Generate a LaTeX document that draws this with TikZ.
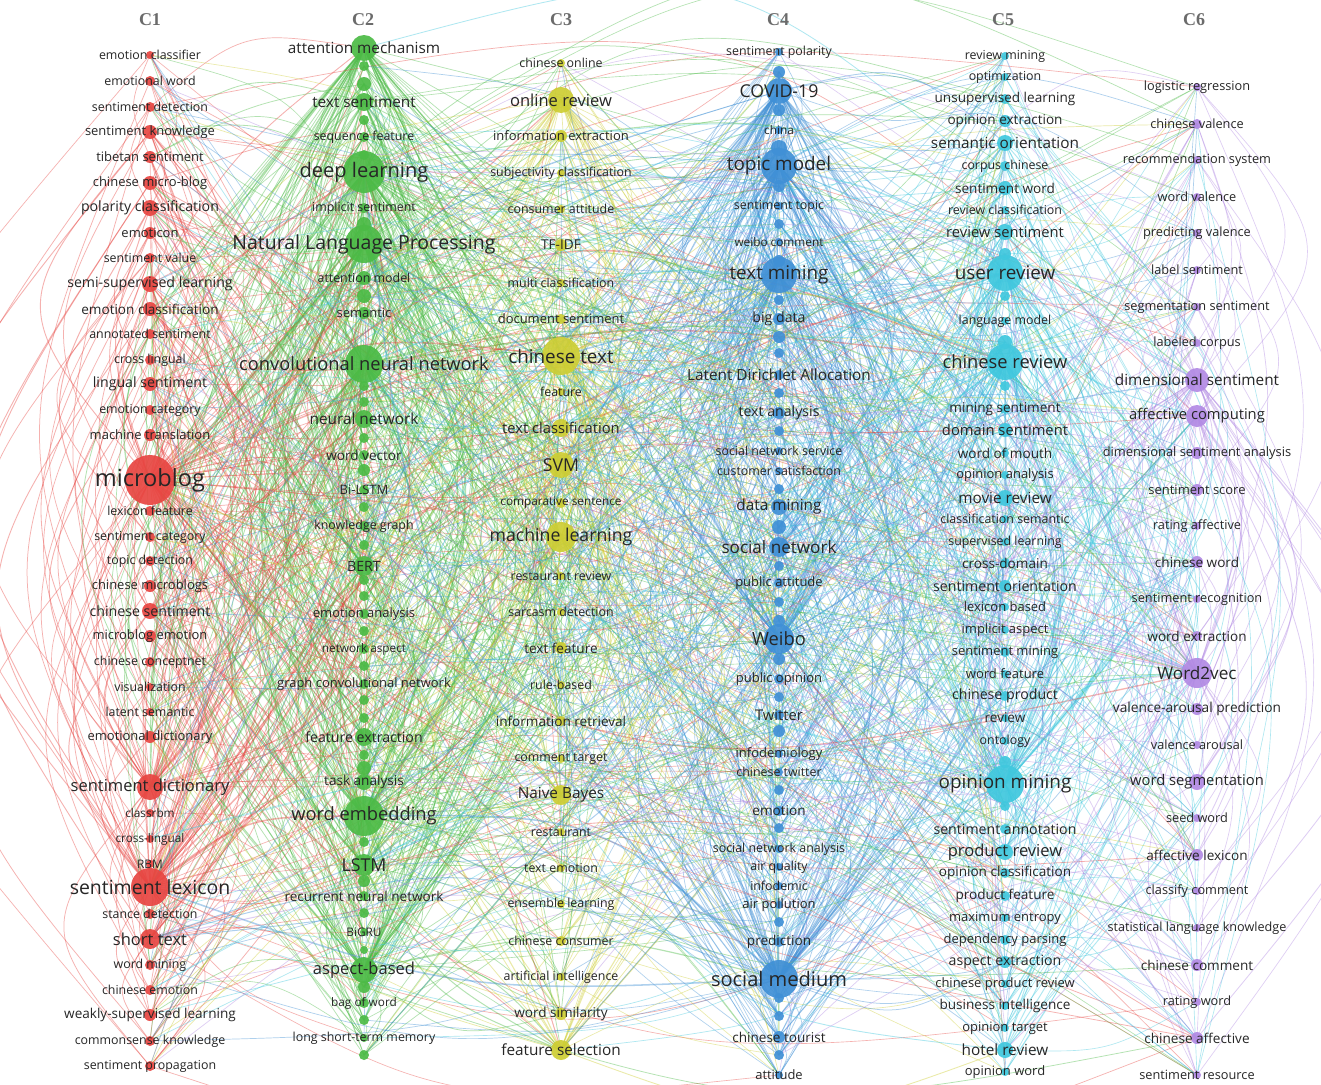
\documentclass[tikz,border=0pt]{standalone}
\usepackage{fontspec}
\setmainfont{Open Sans}
\newfontfamily\ttlfont{Liberation Serif}
\usetikzlibrary{calc}
\pgfdeclarelayer{bglayer}
\pgfdeclarelayer{edgelayer}
\pgfsetlayers{bglayer,edgelayer,main}
\definecolor{colA}{RGB}{232,70,66}
\definecolor{colB}{RGB}{76,187,70}
\definecolor{colC}{RGB}{206,206,52}
\definecolor{colD}{RGB}{64,144,214}
\definecolor{colE}{RGB}{64,200,222}
\definecolor{colF}{RGB}{178,138,228}
\tikzset{
  kwnode/.style={circle,inner sep=0pt,outer sep=0pt,draw=none,fill opacity=0.92},
  kwlabel/.style={inner sep=0pt,text=black!85},
  coltitle/.style={font=\ttlfont\bfseries\fontsize{18}{18}\selectfont,text=black!58},
  linkline/.style={draw opacity=0.42,line cap=round},
}
\newcommand\kwcolumn[4]{%
  \foreach \py/\plab/\pfs/\prad [count=\pidx] in {#4}{%
    \pgfmathsetmacro\pfsz{\pfs*1.18}%
    \node[kwnode,fill=#3,minimum size=2*\prad*1pt] (n#1-\pidx) at (#2,\py) {};
    \expandafter\xdef\csname kwrad-#1-\pidx\endcsname{\prad}%
    \expandafter\xdef\csname kwlab-#1-\pidx\endcsname{\plab}%
    \expandafter\xdef\csname kwfs-#1-\pidx\endcsname{\pfsz}%
    \xdef\kwlast{\pidx}%
  }%
  \expandafter\xdef\csname kwcnt-#1\endcsname{\kwlast}%
}
\begin{document}
\begin{tikzpicture}[x=1pt,y=-1pt]
\begin{pgfonlayer}{bglayer}
\fill[white] (0,0) rectangle (1321,1084);
\end{pgfonlayer}
\useasboundingbox (0,0) rectangle (1321,1084);

\node[coltitle] (h1) at (150,20) {C1};
\node[coltitle] (h2) at (363,20) {C2};
\node[coltitle] (h3) at (561,20) {C3};
\node[coltitle] (h4) at (778,20) {C4};
\node[coltitle] (h5) at (1003,20) {C5};
\node[coltitle] (h6) at (1194,20) {C6};

\kwcolumn{1}{150}{colA}{55/emotion classifier/10.5/4,
81/emotional word/10.5/5,
107/sentiment detection/10.5/5,
132/sentiment knowledge/11/7,
157/tibetan sentiment/11/6,
183/chinese micro-blog/11/7,
208/polarity classification/12/8,
233/emoticon/11/6,
258/sentiment value/10.5/5,
284/semi-supervised learning/12/8,
309/emotion classification/11.5/7,
334/annotated sentiment/10.5/5,
360/cross lingual/10.5/5,
384/lingual sentiment/12/7,
410/emotion category/10.5/5,
435/machine translation/11/6,
480/microblog/20/25,
511/lexicon feature/10.5/5,
537/sentiment category/10.5/5,
561/topic detection/10.5/5,
586/chinese microblogs/11/6,
611/chinese sentiment/12/8,
636/microblog emotion/11/6,
662/chinese conceptnet/10.5/5,
687/visualization/10.5/4,
712/latent semantic/10.5/4,
737/emotional dictionary/11/6,
787/sentiment dictionary/14/13,
813/classrbm/10/4,
839/cross-lingual/10/4,
864/RBM/10/4,
887/sentiment lexicon/16.5/19,
914/stance detection/10.5/5,
939/short text/14/10,
965/word mining/10.5/5,
990/chinese emotion/10.5/5,
1015/weakly-supervised learning/11.5/6,
1041/commonsense knowledge/10.5/5,
1066/sentiment propagation/10.5/5}

\kwcolumn{2}{364}{colB}{48/attention mechanism/13/13,
66//10/5,
84//10/7,
102/text sentiment/13/9,
120//10/5,
137/sequence feature/10.5/5,
155//10/5,
172/deep learning/17/21,
208/implicit sentiment/10.5/5,
224//10/7,
244/Natural Language Processing/16.5/19,
278/attention model/10.5/7,
296//10/7,
313/semantic/11/6,
364/convolutional neural network/15.5/19,
386//10/5,
402//10/5,
419/neural network/13/9,
438//10/5,
455/word vector/11.5/5,
470//10/6,
490/Bi-LSTM/11/5,
507//10/5,
526/knowledge graph/10.5/5,
545//10/5,
566/BERT/12/10,
580//10/5,
596//10/5,
614/emotion analysis/11/5,
631//10/5,
649/network aspect/10/5,
666//10/5,
684/graph convolutional network/11/5,
700//10/5,
718//10/5,
737/feature extraction/12/9,
755//10/5,
768//10/7,
782/task analysis/11.5/8,
816/word embedding/15.5/20,
842//10/5,
865/LSTM/15/11,
881//10/6,
896/recurrent neural network/11.5/5,
913//10/5,
932/BiGRU/10/4,
950//10/4,
970/aspect-based/14/13,
987//10/6,
1003/bag of word/10/5,
1020//10/5,
1038/long short-term memory/10.5/4,
1055//10/5}

\kwcolumn{3}{561}{colC}{63/chinese online/10.5/4,
100/online review/14/13,
136/information extraction/11/6,
173/subjectivity classification/10.5/4,
209/consumer attitude/10.5/4,
245/TF-IDF/11.5/6,
283/multi classification/10.5/4,
319/document sentiment/11/5,
356/chinese text/16/19,
392/feature/10.5/4,
428/text classification/12.5/9,
465/SVM/15/13,
503/comparative sentence/10/5,
537/machine learning/15/15,
576/restaurant review/10.5/4,
612/sarcasm detection/10.5/4,
648/text feature/11.5/6,
685/rule-based/10.5/4,
721/information retrieval/11.5/5,
759/comment target/10.5/4,
795/Naive Bayes/13/10,
832/restaurant/10.5/4,
868/text emotion/10.5/4,
904/ensemble learning/10.5/4,
941/chinese consumer/10.5/5,
977/artificial intelligence/10.5/4,
1014/word similarity/11.5/6,
1050/feature selection/13/10}

\kwcolumn{4}{779}{colD}{52/sentiment polarity/10.5/4,
72//10/6,
91/COVID-19/15/13,
110//10/6,
130/china/10/4,
148//10/8,
166/topic model/16/18,
186//10/6,
206/sentiment topic/10.5/4,
224//10/5,
242/weibo comment/10/4,
261//10/6,
275/text mining/16/18,
300//10/5,
319/big data/12/6,
337//10/6,
353//10/5,
375/Latent Dirichlet Allocation/13/5,
393//10/5,
413/text analysis/12/6,
431//10/5,
451/social network service/10.5/4,
471/customer satisfaction/10.5/4,
489//10/5,
507/data mining/13/8,
527//10/7,
547/social network/14.5/10,
566//10/5,
583/public attitude/11/5,
602//10/5,
621//10/6,
639/Weibo/15.5/15,
659//10/6,
679/public opinion/11/5,
697//10/5,
715/Twitter/12.5/5,
731//10/6,
754/infodemiology/11/4,
772/chinese twitter/10.5/4,
790//10/5,
811/emotion/11.5/5,
828//10/5,
849/social network analysis/10.5/4,
867/air quality/10.5/4,
886/infodemic/10.5/4,
905/air pollution/11/4,
922//10/5,
942/prediction/11.5/5,
979/social medium/17/19,
998//10/5,
1016//10/5,
1037/chinese tourist/11.5/6,
1055//10/5,
1075/attitude/11/4}

\kwcolumn{5}{1005}{colE}{56/review mining/10.5/4,
77/optimization/10.5/4,
99/unsupervised learning/11.5/5,
121/opinion extraction/11.5/6,
143/semantic orientation/13/8,
166/corpus chinese/10.5/5,
188/sentiment word/11.5/7,
210/review classification/10.5/4,
232/review sentiment/12.5/8,
254//10/6,
273/user review/16/18,
296//10/5,
321/language model/10.5/4,
342//10/7,
362/chinese review/15.5/18,
386//10/5,
409/mining sentiment/11.5/5,
430/domain sentiment/12.5/7,
453/word of mouth/11.5/4,
475/opinion analysis/11/4,
498/movie review/13/8,
519/classification semantic/10.5/4,
542/supervised learning/10.5/4,
563/cross-domain/11.5/5,
586/sentiment orientation/12/6,
607/lexicon based/11/4,
630/implicit aspect/11/4,
652/sentiment mining/11/5,
674/word feature/11/4,
696/chinese product/12/5,
718/review/11.5/4,
741/ontology/10.5/4,
762//10/6,
784/opinion mining/16/19,
806//10/5,
829/sentiment annotation/12/5,
852/product review/14/8,
873/opinion classification/11.5/5,
896/product feature/11.5/5,
918/maximum entropy/11/4,
940/dependency parsing/11/5,
962/aspect extraction/12/6,
984/chinese product review/11/4,
1006/business intelligence/11.5/4,
1028/opinion target/11/4,
1050/hotel review/13/8,
1072/opinion word/11/4}

\kwcolumn{6}{1197}{colF}{87/logistic regression/10.8/4,
124/chinese valence/10.8/5,
160/recommendation system/10.8/4,
197/word valence/10.8/4,
233/predicting valence/10.8/4,
270/label sentiment/10.8/4,
307/segmentation sentiment/10.8/4,
343/labeled corpus/10.8/4,
380/dimensional sentiment/13/12,
416/affective computing/12.5/11,
453/dimensional sentiment analysis/10.9/6,
490/sentiment score/11/6,
526/rating affective/10.8/4,
562/chinese word/11.5/6,
599/sentiment recognition/10.8/4,
636/word extraction/11.5/5,
673/Word2vec/14.5/15,
709/valence-arousal prediction/11.6/6,
745/valence arousal/10.8/4,
782/word segmentation/12.5/8,
818/seed word/10.8/4,
855/affective lexicon/11.5/6,
891/classify comment/10.8/4,
928/statistical language knowledge/10.7/4,
965/chinese comment/11.5/6,
1002/rating word/10.8/4,
1038/chinese affective/11.5/6,
1075/sentiment resource/10.8/4}

% labels, drawn on top of the circles
\foreach \kc in {1,...,6}{%
  \expandafter\let\expandafter\kN\csname kwcnt-\kc\endcsname
  \foreach \ki in {1,...,\kN}{%
    \expandafter\let\expandafter\curfs\csname kwfs-\kc-\ki\endcsname
    \node[kwlabel,font=\fontsize{\curfs}{\curfs}\selectfont] (t\kc-\ki) at (n\kc-\ki.center) {\csname kwlab-\kc-\ki\endcsname};
  }%
}

\pgfmathsetseed{2024}
\begin{pgfonlayer}{edgelayer}
% links inside a cluster
\foreach \kc/\kcol in {1/colA,2/colB,3/colC,4/colD,5/colE,6/colF}{%
  \expandafter\let\expandafter\kN\csname kwcnt-\kc\endcsname
  \foreach \ki in {1,...,\kN}{%
    \expandafter\let\expandafter\ri\csname kwrad-\kc-\ki\endcsname
    \foreach \kj in {\ki,...,\kN}{%
      \ifnum\kj>\ki
        \expandafter\let\expandafter\rj\csname kwrad-\kc-\kj\endcsname
        \pgfmathsetmacro\pp{max(\ri,\rj)>=12 ? 0.9 : ((\ri+\rj>=15) ? 0.5 : 0.06)}%
        \pgfmathsetmacro\rv{rnd}%
        \ifdim\rv pt<\pp pt
          \pgfmathsetmacro\ff{(rnd<0.5 ? -1 : 1)*(0.3+0.6*rnd)}%
          \pgfmathsetmacro\lw{0.4+0.07*min(\ri,\rj)}%
          \draw[linkline,draw=\kcol,line width=\lw pt] (n\kc-\ki.center) .. controls ($(n\kc-\ki.center)!0.5!(n\kc-\kj.center)!\ff!90:(n\kc-\kj.center)$) .. (n\kc-\kj.center);
        \fi
      \fi
    }%
  }%
}
% links between clusters
\foreach \kc/\kcol in {1/colA,2/colB,3/colC,4/colD,5/colE,6/colF}{%
  \expandafter\let\expandafter\kN\csname kwcnt-\kc\endcsname
  \foreach \ki in {1,...,\kN}{%
    \expandafter\let\expandafter\ri\csname kwrad-\kc-\ki\endcsname
    \pgfmathtruncatemacro\kk{round(\ri*\ri/13)}%
    \ifnum\kk>0
      \foreach \km in {1,...,\kk}{%
        \pgfmathrandominteger\tc{1}{6}%
        \ifnum\tc=\kc \pgfmathtruncatemacro\tc{\kc==6 ? 5 : \kc+1}\fi
        \expandafter\let\expandafter\tN\csname kwcnt-\tc\endcsname
        \pgfmathrandominteger\tj{1}{\tN}%
        \expandafter\let\expandafter\rj\csname kwrad-\tc-\tj\endcsname
        \pgfmathsetmacro\ff{(rnd<0.5 ? -1 : 1)*(0.15+0.4*rnd)}%
        \pgfmathsetmacro\lw{0.4+0.06*min(\ri,\rj)}%
        \draw[linkline,draw=\kcol,line width=\lw pt] (n\kc-\ki.center) .. controls ($(n\kc-\ki.center)!0.5!(n\tc-\tj.center)!\ff!90:(n\tc-\tj.center)$) .. (n\tc-\tj.center);
      }%
    \fi
  }%
}
\end{pgfonlayer}
\end{tikzpicture}
\end{document}
